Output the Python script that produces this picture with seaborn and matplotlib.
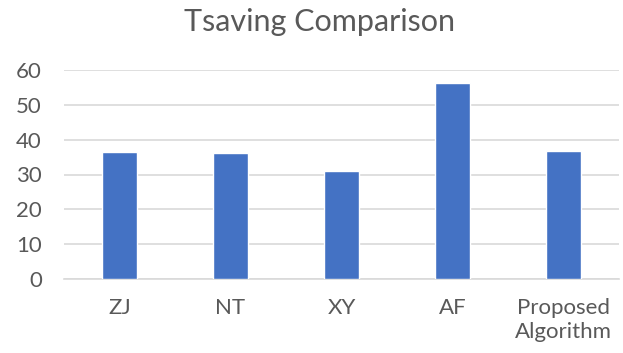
import matplotlib
matplotlib.use("Agg")
import matplotlib.pyplot as plt
import seaborn as sns
import pandas as pd

methods = ["ZJ", "NT", "XY", "AF", "Proposed\nAlgorithm"]
tsaving = [36.5, 36.1, 31.1, 56.2, 36.7]
yticks = [0, 10, 20, 30, 40, 50, 60]

sns.set_theme(style="white")
plt.rcParams["font.family"] = ["Lato", "DejaVu Sans"]

text_grey = "#595959"
df = pd.DataFrame({"method": methods, "tsaving": tsaving})

fig = plt.figure(figsize=(6.23, 3.53), dpi=100)
ax = fig.add_axes([64 / 623, 1 - 279 / 353, 555 / 623, 209 / 353])

sns.barplot(data=df, x="method", y="tsaving", color="#4472C4", width=0.31,
            saturation=1, ax=ax, zorder=3)

ax.set_ylim(0, 60)
ax.set_yticks(yticks)
ax.set_xlim(-0.5, len(methods) - 0.5)
ax.yaxis.grid(True, color="#d9d9d9", linewidth=1.2, zorder=0)
ax.xaxis.grid(False)
for s in ["top", "right", "left"]:
    ax.spines[s].set_visible(False)
ax.spines["bottom"].set_color("#d9d9d9")
ax.spines["bottom"].set_linewidth(1.2)
ax.set_xlabel("")
ax.set_ylabel("")
ax.tick_params(axis="y", length=0, pad=16, labelsize=16, labelcolor=text_grey)
ax.tick_params(axis="x", length=0, pad=14, labelsize=16, labelcolor=text_grey)
for lbl in ax.get_xticklabels():
    lbl.set_linespacing(1.2)

fig.text(320 / 623, 1 - 22 / 353, "Tsaving Comparison", ha="center", va="center",
         fontsize=22, color=text_grey)

fig.savefig("out.png", dpi=100)
